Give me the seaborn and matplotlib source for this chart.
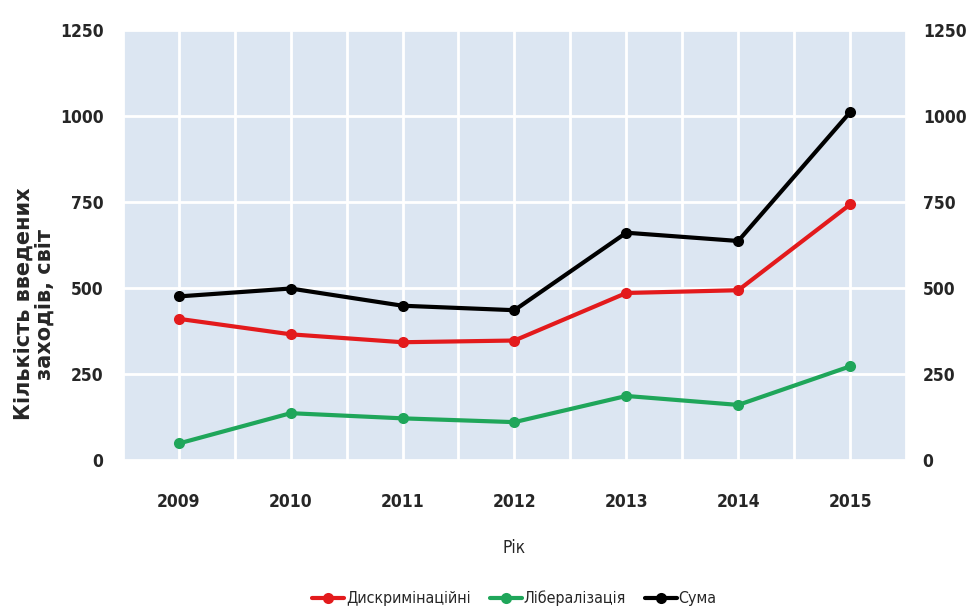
import numpy as np
import pandas as pd
import matplotlib
matplotlib.use("Agg")
import matplotlib.pyplot as plt
import seaborn as sns

years = [2009, 2010, 2011, 2012, 2013, 2014, 2015]
discrim = [410, 365, 342, 347, 485, 493, 742]
liberal = [48, 136, 121, 110, 186, 160, 272]
total = [475, 498, 448, 435, 660, 636, 1010]
series_names = ["Дискримінаційні", "Лібералізація", "Сума"]
colors = ["#e31a1c", "#1fa65a", "#000000"]
yticks = [0, 250, 500, 750, 1000, 1250]

df = pd.DataFrame({
    "Рік": years * 3,
    "value": discrim + liberal + total,
    "series": sum([[n] * len(years) for n in series_names], []),
})

sns.set_theme(style="whitegrid")
plt.rcParams["font.family"] = ["DejaVu Sans"]
plt.rcParams["font.stretch"] = "condensed"

fig = plt.figure(figsize=(9.67, 6.15), dpi=100)
ax = fig.add_axes([0.127, 0.252, 0.81, 0.70])
ax.set_facecolor("#dce6f2")
sns.lineplot(data=df, x="Рік", y="value", hue="series", palette=colors,
             hue_order=series_names, marker="o", markersize=8, linewidth=3,
             markeredgewidth=0, ax=ax, legend=True)

ax.set_xlim(2008.5, 2015.5)
ax.set_ylim(0, 1250)
ax.set_xticks(years)
ax.set_xticks(np.arange(2008.5, 2015.6, 0.5), minor=True)
ax.set_yticks(yticks)
ax.grid(True, which="both", color="white", linewidth=2)
ax.tick_params(axis="both", which="both", length=0)
for s in ax.spines.values():
    s.set_visible(False)
tick_kw = dict(fontsize=12.5, fontweight="bold", fontstretch="condensed")
ax.set_xticklabels([str(y) for y in years], **tick_kw)
ax.set_yticklabels([str(v) for v in yticks], **tick_kw)
ax.tick_params(axis="x", pad=24)
ax.tick_params(axis="y", pad=14)

ax2 = ax.twinx()
ax2.set_ylim(0, 1250)
ax2.set_yticks(yticks)
ax2.set_yticklabels([str(v) for v in yticks], **tick_kw)
ax2.tick_params(axis="y", length=0, pad=12)
ax2.grid(False)
for s in ax2.spines.values():
    s.set_visible(False)

ax.set_xlabel("Рік", fontsize=12.5, labelpad=20, fontstretch="condensed")
ax.set_ylabel("Кількість введених\nзаходів, світ", fontsize=15, fontweight="bold",
              fontstretch="normal", linespacing=1.05)
ax.yaxis.set_label_coords(-0.087, 0.362)

h, l = ax.get_legend_handles_labels()
ax.legend(h, l, loc="upper center", bbox_to_anchor=(0.5, -0.27), ncol=3,
          frameon=False, prop=dict(size=11.5, stretch="condensed", weight="medium"),
          handlelength=2.0, handletextpad=0.1, columnspacing=1.2)

fig.savefig("out.png", dpi=100)
